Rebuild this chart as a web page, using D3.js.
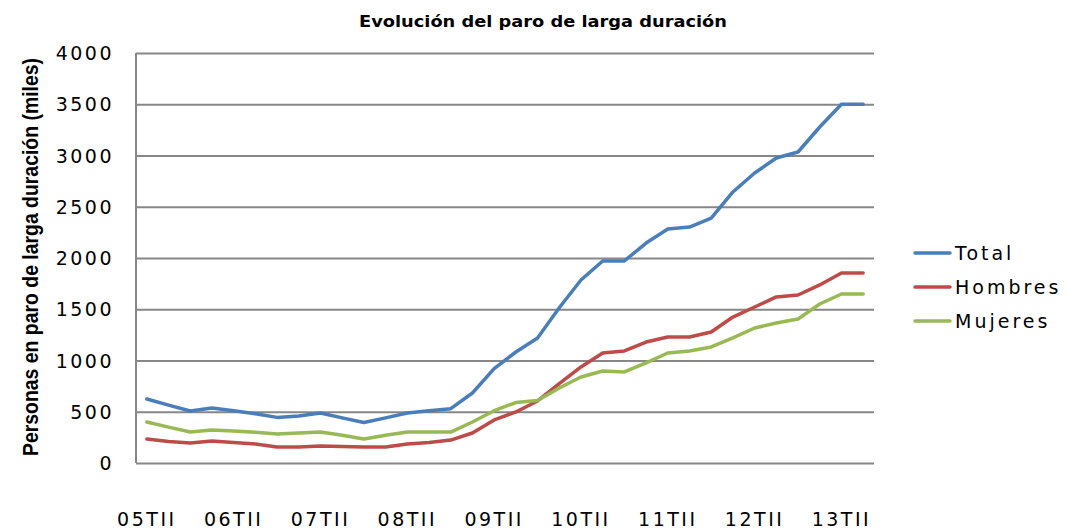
<!DOCTYPE html>
<html>
<head>
<meta charset="utf-8">
<script src="https://cdn.jsdelivr.net/npm/d3@7"></script>
<style>
  body { margin: 0; background: #fff; }
  svg { display: block; }
  .tick-label { font-family: 'DejaVu Sans', sans-serif; font-size: 19px; fill: #000; letter-spacing: 2.5px; }
</style>
</head>
<body>
<svg class="chart" width="1067" height="529"></svg>
<script>
// quarters from 2005 TII to 2013 TIII
const quarters = [
  '05TII', '05TIII', '05TIV', '06TI', '06TII', '06TIII', '06TIV', '07TI',
  '07TII', '07TIII', '07TIV', '08TI', '08TII', '08TIII', '08TIV', '09TI',
  '09TII', '09TIII', '09TIV', '10TI', '10TII', '10TIII', '10TIV', '11TI',
  '11TII', '11TIII', '11TIV', '12TI', '12TII', '12TIII', '12TIV', '13TI',
  '13TII', '13TIII'
];
const total = [
  624, 565, 507, 537, 510, 480, 445, 459, 488, 440, 395, 440, 488, 510, 530, 683,
  920, 1083, 1220, 1515, 1785, 1971, 1971, 2146, 2283, 2302, 2390, 2644,
  2829, 2976, 3034, 3278, 3500, 3500
];
const hombres = [
  234, 210, 195, 215, 200, 185, 156, 156, 166, 160, 156, 156, 185, 200, 224, 293,
  420, 498, 605, 775, 937, 1073, 1093, 1180, 1229, 1229, 1278, 1424,
  1522, 1620, 1639, 1737, 1854, 1854
];
const mujeres = [
  400, 350, 302, 322, 312, 300, 283, 293, 302, 270, 234, 270, 302, 302, 302, 400,
  510, 590, 610, 732, 839, 898, 888, 976, 1073, 1093, 1132, 1220,
  1317, 1366, 1405, 1551, 1649, 1649
];
const seriesNames = ['Total', 'Hombres', 'Mujeres'];
const seriesColors = ['#4a7ebb', '#be4b48', '#98b954'];
const yTicks = [0, 500, 1000, 1500, 2000, 2500, 3000, 3500, 4000];
const xLabels = ['05TII', '06TII', '07TII', '08TII', '09TII', '10TII', '11TII', '12TII', '13TII'];

const margin = { top: 53, left: 136, right: 193, bottom: 66 };
const svg = d3.select('.chart');
const width = 1067 - margin.left - margin.right;
const height = 529 - margin.top - margin.bottom;

const x = d3.scaleBand().domain(quarters).range([0, width]);
const y = d3.scaleLinear().domain([0, 4000]).range([height, 0]);

const chart = svg.append('g')
  .attr('transform', `translate(${margin.left}, ${margin.top})`);

// gridlines
chart.append('g')
  .call(d3.axisLeft(y).tickValues(yTicks).tickSize(-width).tickFormat(''))
  .call(g => g.select('.domain').remove())
  .call(g => g.selectAll('line').attr('stroke', '#878787').attr('stroke-width', 2));

// left axis line
chart.append('line')
  .attr('x1', 0).attr('x2', 0).attr('y1', 0).attr('y2', height)
  .attr('stroke', '#878787').attr('stroke-width', 2);

// y tick labels
const yAxis = chart.append('g')
  .call(d3.axisLeft(y).tickValues(yTicks).tickSize(0).tickPadding(22).tickFormat(d3.format('d')));
yAxis.select('.domain').remove();
yAxis.selectAll('text').attr('class', 'tick-label').attr('dy', '0.35em');

// x tick labels
const xAxis = chart.append('g')
  .attr('transform', `translate(0, ${height})`)
  .call(d3.axisBottom(x).tickValues(xLabels).tickSize(0).tickPadding(50));
xAxis.select('.domain').remove();
xAxis.selectAll('text').attr('class', 'tick-label').attr('dy', '0.71em');

// lines
const series = [total, hombres, mujeres];
const line = d3.line()
  .x((d, i) => x(quarters[i]) + x.bandwidth() / 2)
  .y(d => y(d));

series.forEach((values, k) => {
  chart.append('path')
    .datum(values)
    .attr('fill', 'none')
    .attr('stroke', seriesColors[k])
    .attr('stroke-width', 3.5)
    .attr('stroke-linejoin', 'round')
    .attr('stroke-linecap', 'round')
    .attr('d', line);
});

// title
svg.append('text')
  .attr('x', 543).attr('y', 27)
  .attr('text-anchor', 'middle')
  .attr('textLength', 368)
  .attr('lengthAdjust', 'spacingAndGlyphs')
  .style('font-family', "'DejaVu Sans', sans-serif")
  .style('font-size', '15px')
  .style('font-weight', 'bold')
  .text('Evolución del paro de larga duración');

// y axis title
svg.append('text')
  .attr('transform', 'translate(38, 257) rotate(-90)')
  .attr('text-anchor', 'middle')
  .attr('textLength', 398)
  .attr('lengthAdjust', 'spacingAndGlyphs')
  .style('font-family', "'Liberation Sans Narrow', 'Liberation Sans', sans-serif")
  .style('font-size', '22px')
  .style('font-weight', 'bold')
  .text('Personas en paro de larga duración (miles)');

// legend
const legend = svg.append('g').attr('transform', 'translate(915, 253)');
seriesNames.forEach((name, k) => {
  const row = legend.append('g').attr('transform', `translate(0, ${k * 34})`);
  row.append('line')
    .attr('x1', 0).attr('x2', 35)
    .attr('stroke', seriesColors[k])
    .attr('stroke-width', 3.5)
    .attr('stroke-linecap', 'round');
  row.append('text')
    .attr('class', 'tick-label')
    .attr('x', 40).attr('dy', '0.35em')
    .style('letter-spacing', '3px')
    .text(name);
});
</script>
</body>
</html>
